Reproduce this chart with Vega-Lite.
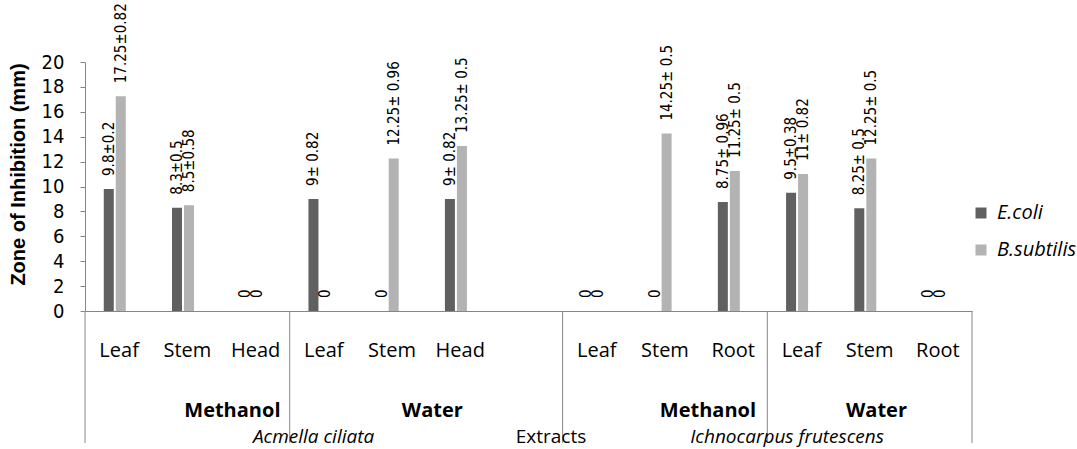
{
  "$schema": "https://vega.github.io/schema/vega-lite/v6.json",
  "width": 887,
  "height": 249,
  "autosize": {"type": "none"},
  "padding": {"left": 85, "top": 62, "right": 105, "bottom": 138},
  "background": "white",
  "config": {
    "view": {"stroke": null},
    "axis": {"grid": false, "domainColor": "#868686", "tickColor": "#868686"},
    "axisY": {
      "tickCount": 10,
      "labelOverlap": false,
      "labelFont": "Liberation Sans Narrow, Arial Narrow, DejaVu Sans Condensed",
      "labelFontSize": 20,
      "labelColor": "#000000",
      "tickSize": 5,
      "labelPadding": 16,
      "titleFont": "Liberation Sans",
      "titleFontWeight": "bold",
      "titleFontSize": 20,
      "titleColor": "#000000",
      "titlePadding": 13,
      "titleY": 112
    }
  },
  "datasets": {
    "bars": [
      {"key": "Acmella ciliata|Methanol|Leaf", "series": "E.coli", "value": 9.8, "label": "9.8±0.2"},
      {"key": "Acmella ciliata|Methanol|Leaf", "series": "B.subtilis", "value": 17.25, "label": "17.25±0.82"},
      {"key": "Acmella ciliata|Methanol|Stem", "series": "E.coli", "value": 8.3, "label": "8.3±0.5"},
      {"key": "Acmella ciliata|Methanol|Stem", "series": "B.subtilis", "value": 8.5, "label": "8.5±0.58"},
      {"key": "Acmella ciliata|Methanol|Head", "series": "E.coli", "value": 0, "label": "0"},
      {"key": "Acmella ciliata|Methanol|Head", "series": "B.subtilis", "value": 0, "label": "0"},
      {"key": "Acmella ciliata|Water|Leaf", "series": "E.coli", "value": 9, "label": "9± 0.82"},
      {"key": "Acmella ciliata|Water|Leaf", "series": "B.subtilis", "value": 0, "label": "0"},
      {"key": "Acmella ciliata|Water|Stem", "series": "E.coli", "value": 0, "label": "0"},
      {"key": "Acmella ciliata|Water|Stem", "series": "B.subtilis", "value": 12.25, "label": "12.25± 0.96"},
      {"key": "Acmella ciliata|Water|Head", "series": "E.coli", "value": 9, "label": "9± 0.82"},
      {"key": "Acmella ciliata|Water|Head", "series": "B.subtilis", "value": 13.25, "label": "13.25± 0.5"},
      {"key": "Ichnocarpus frutescens|Methanol|Leaf", "series": "E.coli", "value": 0, "label": "0"},
      {"key": "Ichnocarpus frutescens|Methanol|Leaf", "series": "B.subtilis", "value": 0, "label": "0"},
      {"key": "Ichnocarpus frutescens|Methanol|Stem", "series": "E.coli", "value": 0, "label": "0"},
      {"key": "Ichnocarpus frutescens|Methanol|Stem", "series": "B.subtilis", "value": 14.25, "label": "14.25± 0.5"},
      {"key": "Ichnocarpus frutescens|Methanol|Root", "series": "E.coli", "value": 8.75, "label": "8.75± 0.96"},
      {"key": "Ichnocarpus frutescens|Methanol|Root", "series": "B.subtilis", "value": 11.25, "label": "11.25± 0.5"},
      {"key": "Ichnocarpus frutescens|Water|Leaf", "series": "E.coli", "value": 9.5, "label": "9.5±0.38"},
      {"key": "Ichnocarpus frutescens|Water|Leaf", "series": "B.subtilis", "value": 11, "label": "11± 0.82"},
      {"key": "Ichnocarpus frutescens|Water|Stem", "series": "E.coli", "value": 8.25, "label": "8.25± 0.5"},
      {"key": "Ichnocarpus frutescens|Water|Stem", "series": "B.subtilis", "value": 12.25, "label": "12.25± 0.5"},
      {"key": "Ichnocarpus frutescens|Water|Root", "series": "E.coli", "value": 0, "label": "0"},
      {"key": "Ichnocarpus frutescens|Water|Root", "series": "B.subtilis", "value": 0, "label": "0"}
    ],
    "solvents": [
      {"pos": 2.16, "text": "Methanol"},
      {"pos": 5.09, "text": "Water"},
      {"pos": 9.13, "text": "Methanol"},
      {"pos": 11.6, "text": "Water"}
    ],
    "plants": [
      {"pos": 3.35, "text": "Acmella ciliata"},
      {"pos": 10.29, "text": "Ichnocarpus frutescens"}
    ],
    "titles": [
      {"pos": 6.83, "text": "Extracts"}
    ],
    "seps": [
      {"pos": 0}, {"pos": 3}, {"pos": 7}, {"pos": 10}, {"pos": 13}
    ]
  },
  "layer": [
    {
      "data": {"name": "bars"},
      "mark": {"type": "bar"},
      "encoding": {
        "x": {
          "field": "key", "type": "nominal",
          "scale": {
            "domain": [
              "Acmella ciliata|Methanol|Leaf", "Acmella ciliata|Methanol|Stem", "Acmella ciliata|Methanol|Head",
              "Acmella ciliata|Water|Leaf", "Acmella ciliata|Water|Stem", "Acmella ciliata|Water|Head",
              "||",
              "Ichnocarpus frutescens|Methanol|Leaf", "Ichnocarpus frutescens|Methanol|Stem", "Ichnocarpus frutescens|Methanol|Root",
              "Ichnocarpus frutescens|Water|Leaf", "Ichnocarpus frutescens|Water|Stem", "Ichnocarpus frutescens|Water|Root"
            ],
            "paddingInner": 0.55, "paddingOuter": 0.275
          },
          "axis": {
            "title": null,
            "labelExpr": "split(datum.value, '|')[2]",
            "labelAngle": 0,
            "ticks": false,
            "labelPadding": 45,
            "labelBaseline": "alphabetic",
            "labelFont": "Open Sans",
            "labelFontSize": 20,
            "labelColor": "#000000",
            "domainColor": "#868686"
          }
        },
        "xOffset": {
          "field": "series", "type": "nominal",
          "scale": {"domain": ["E.coli", "B.subtilis"], "paddingInner": 0.1667, "paddingOuter": 0.362, "align": 0}
        },
        "y": {
          "field": "value", "type": "quantitative",
          "scale": {"domain": [0, 20], "nice": false},
          "axis": {"title": "Zone of Inhibition (mm)"}
        },
        "color": {
          "field": "series", "type": "nominal",
          "scale": {"domain": ["E.coli", "B.subtilis"], "range": ["#606060", "#b3b3b3"]},
          "legend": {
            "title": null,
            "orient": "none",
            "legendX": 886,
            "legendY": 141,
            "symbolType": "square",
            "symbolSize": 121,
            "symbolStrokeWidth": 0,
            "labelFont": "Open Sans",
            "labelFontStyle": "italic",
            "labelFontSize": 20,
            "labelColor": "#000000",
            "labelOffset": 6,
            "rowPadding": 17,
            "padding": 0
          }
        }
      }
    },
    {
      "data": {"name": "bars"},
      "mark": {
        "type": "text", "angle": 270, "align": "left", "baseline": "middle", "dx": 13,
        "font": "Liberation Sans Narrow, Arial Narrow, DejaVu Sans Condensed", "fontSize": 15, "color": "#000000"
      },
      "encoding": {
        "x": {
          "field": "key", "type": "nominal",
          "scale": {
            "domain": [
              "Acmella ciliata|Methanol|Leaf", "Acmella ciliata|Methanol|Stem", "Acmella ciliata|Methanol|Head",
              "Acmella ciliata|Water|Leaf", "Acmella ciliata|Water|Stem", "Acmella ciliata|Water|Head",
              "||",
              "Ichnocarpus frutescens|Methanol|Leaf", "Ichnocarpus frutescens|Methanol|Stem", "Ichnocarpus frutescens|Methanol|Root",
              "Ichnocarpus frutescens|Water|Leaf", "Ichnocarpus frutescens|Water|Stem", "Ichnocarpus frutescens|Water|Root"
            ],
            "paddingInner": 0.55, "paddingOuter": 0.275
          },
          "axis": null
        },
        "xOffset": {
          "field": "series", "type": "nominal",
          "scale": {"domain": ["E.coli", "B.subtilis"], "paddingInner": 0.1667, "paddingOuter": 0.362, "align": 0}
        },
        "y": {"field": "value", "type": "quantitative"},
        "text": {"field": "label", "type": "nominal"}
      }
    },
    {
      "data": {"name": "seps"},
      "mark": {"type": "rule", "color": "#868686", "strokeWidth": 1},
      "encoding": {
        "x": {"field": "pos", "type": "quantitative", "scale": {"domain": [0, 13], "nice": false, "zero": false}, "axis": null},
        "y": {"datum": 0},
        "y2": {"datum": -10.6}
      }
    },
    {
      "data": {"name": "solvents"},
      "mark": {"type": "text", "font": "Open Sans", "fontWeight": "bold", "fontSize": 20, "align": "center", "baseline": "alphabetic", "dy": 106, "color": "#000000"},
      "encoding": {
        "x": {"field": "pos", "type": "quantitative", "scale": {"domain": [0, 13], "nice": false, "zero": false}, "axis": null},
        "y": {"datum": 0},
        "text": {"field": "text", "type": "nominal"}
      }
    },
    {
      "data": {"name": "plants"},
      "mark": {"type": "text", "font": "Open Sans", "fontStyle": "italic", "fontSize": 19, "align": "center", "baseline": "alphabetic", "dy": 132, "color": "#000000"},
      "encoding": {
        "x": {"field": "pos", "type": "quantitative", "scale": {"domain": [0, 13], "nice": false, "zero": false}, "axis": null},
        "y": {"datum": 0},
        "text": {"field": "text", "type": "nominal"}
      }
    },
    {
      "data": {"name": "titles"},
      "mark": {"type": "text", "font": "Open Sans", "fontSize": 19, "align": "center", "baseline": "alphabetic", "dy": 132, "color": "#000000"},
      "encoding": {
        "x": {"field": "pos", "type": "quantitative", "scale": {"domain": [0, 13], "nice": false, "zero": false}, "axis": null},
        "y": {"datum": 0},
        "text": {"field": "text", "type": "nominal"}
      }
    }
  ],
  "resolve": {"scale": {"x": "independent"}}
}
